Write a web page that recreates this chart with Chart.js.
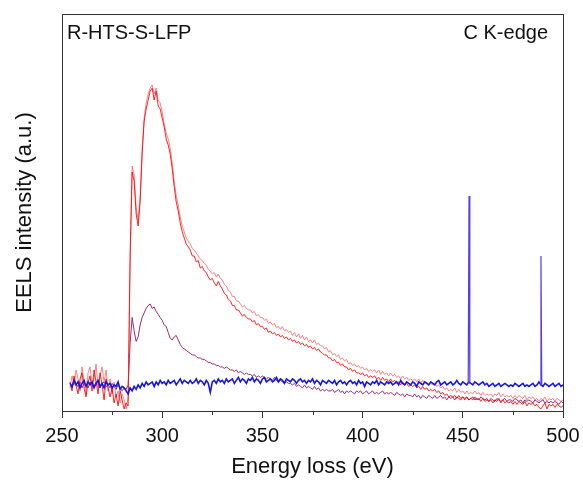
<!DOCTYPE html>
<html>
<head>
<meta charset="utf-8">
<script src="https://cdn.jsdelivr.net/npm/chart.js@4.4.1/dist/chart.umd.min.js"></script>
<style>
  html, body { margin: 0; padding: 0; background: #fff; }
  #wrap { width: 583px; height: 484px; }
</style>
</head>
<body>
<div id="wrap"><canvas id="eels" width="583" height="484"></canvas></div>
<script>
// energy grid: 254 .. 500 eV, 1 eV step
const eStart = 254;
const xTicks = [250, 300, 350, 400, 450, 500];

// bright red spectrum
const redA = [
  1, -2, 3, 0, -3, 2, 4, -1, -4, 1,
  3, -2, 5, 1, -3, 4, 0, -5, 2, -1,
  -4, -1, -6, -3, -7, -2, -5, -8, -6, -7,
  44, 71, 68, 57, 53, 61, 77, 88, 92, 95,
  98, 99, 95, 98, 93, 92, 89, 86, 82, 80,
  77, 72, 66, 61, 58, 54, 51, 49, 47, 46,
  45, 43, 43, 41, 41.5, 39, 39.5, 38, 37.5, 36,
  35, 35.5, 34, 33, 34.5, 33, 32, 30.5, 30, 28.5,
  28, 26.5, 26.5, 25, 25, 24, 23, 23.5, 22.5, 22,
  22, 21, 21.5, 20, 20.5, 19.5, 19.5, 18.5, 19, 17.5,
  18, 17, 17.5, 16.5, 17, 16, 16.5, 15.5, 16, 15,
  15.5, 14.5, 15, 14, 14.5, 13.5, 14, 13, 13.5, 12.5,
  13, 12, 12.5, 11.5, 12, 11, 10.5, 10, 10, 9,
  9, 8, 8.5, 7.5, 7.5, 6.5, 7, 6, 6, 5,
  5.5, 4.5, 5, 4, 4, 3.5, 4, 3, 3.5, 2.5,
  3, 2.5, 3, 2, 2.5, 1.5, 2.5, 1.5, 2, 1,
  2, 1, 1.5, 0.5, 1, 0, 1, 0, 0.5, -0.5,
  0, -0.5, 0, -1, -0.5, -1.5, -0.5, -1.5, -1, -2,
  -1.5, -2, -1.5, -2.5, -2, -3, -2.5, -3.5, -3, -4,
  -3.5, -4, -3.5, -4.5, -3.5, -4.5, -4, -5, -4, -5,
  -4.5, -5, -4, -5, -4.5, -5.5, -4.5, -5.5, -5, -5.5,
  -5, -6, -5, -5.5, -4.5, -6, -5, -6, -5.5, -6,
  -5.5, -6.5, -5.5, -6.5, -5.5, -6, -6.5, -5.5, -7, -6,
  -6.5, -6, -7, -6.5, -7.5, -8, -7, -6, -8, -6.5,
  -7, -6.5, -7.5, -6.5, -7, -7.5, -7
];

// light red spectrum
const redB = [
  -1, 3, 0, 5, 2, -2, 6, 1, -3, 4,
  6, 0, 2, 7, -1, 3, 6, 1, 5, -2,
  2, -3, 1, -4, -2, -6, -3, -5, -8, -4,
  40, 73, 70, 59, 55, 63, 79, 89, 94, 97,
  99, 100, 97, 99, 95, 94, 91, 87, 84, 82,
  79, 74, 68, 63, 60, 56, 53, 51, 49, 48,
  47, 45.5, 45, 44, 43, 42, 41.5, 40.5, 40, 38.5,
  38, 37, 37.5, 36, 37, 35.5, 35, 33.5, 33, 31.5,
  31, 29.5, 29.5, 28, 28, 27, 26, 26.5, 25.5, 25,
  25, 24, 24.5, 23, 23.5, 22.5, 22.5, 21.5, 22, 20.5,
  21, 20, 20.5, 19, 19.5, 18.5, 19.5, 18, 18.5, 17.5,
  18, 16.5, 17.5, 16, 17, 15.5, 16.5, 15, 16, 14.5,
  15, 14, 15, 13.5, 14, 13, 13, 12, 12.5, 11,
  11.5, 10, 10.5, 9.5, 10, 8.5, 9, 8, 8.5, 7,
  7.5, 6.5, 7, 6, 6.5, 5.5, 6, 5, 5.5, 4.5,
  5, 4.5, 5, 4, 5, 3.5, 4.5, 3.5, 4, 3,
  4, 3, 3.5, 2.5, 3, 2, 3, 2, 2.5, 1.5,
  2, 1.5, 2, 1, 2, 0.5, 1.5, 0.5, 1, 0,
  0.5, 0, 0.5, -0.5, 0, -1, -0.5, -1.5, -1, -2,
  -1.5, -2, -1, -2.5, -1.5, -2.5, -2, -3, -2, -3,
  -2.5, -3, -2, -3, -2.5, -3.5, -2.5, -3.5, -3, -3.5,
  -3, -4, -3, -3.5, -2.5, -4, -3, -4, -3.5, -4,
  -3.5, -4.5, -3.5, -4.5, -3.5, -4, -4.5, -3.5, -5, -4,
  -4.5, -4, -5, -4.5, -5.5, -4.5, -5, -4, -5.5, -4.5,
  -5, -4.5, -5.5, -4.5, -5, -5.5, -5
];

// purple spectrum
const purple = [
  0.5, -1, 1, 0, -0.5, 1, -1, 0.5, 0, -1,
  1, 0, -0.5, 1, 0, -1, 0.5, 1, -0.5, 0,
  -1, 0.5, -0.5, -1.5, 0, -1, -2, -1, -1.5, 0,
  14, 22.5, 18, 14.5, 16, 20, 22.5, 24, 25.5, 26.5,
  27, 25.5, 26, 24.5, 23.5, 22.5, 21.5, 20, 19.5, 17.5,
  15.5, 15, 16, 16.5, 15, 13.5, 12.5, 12, 11.5, 11,
  10.5, 10, 10, 9.5, 9, 9, 8.5, 8.5, 8, 7.5,
  7.5, 7, 7, 6.5, 6.5, 6, 6, 5.5, 6, 5.5,
  5, 5, 4.5, 5, 4, 4.5, 4, 3.5, 4, 3.5,
  3.5, 3, 3.5, 2.5, 3, 2.5, 3, 2.5, 2, 2.5,
  2, 1.5, 2.5, 1.5, 1, 1.5, 1, 0.5, 1, 0.5,
  0.5, 0, 0.5, -0.5, 0, -0.5, -1, 0, -1, -0.5,
  -1, -1.5, -0.5, -1.5, -1, -2, -1.5, -2, -1.5, -2,
  -2, -1.5, -2.5, -2, -1.5, -2.5, -2, -3, -2, -2.5,
  -2, -2.5, -3, -2, -2.5, -2, -3, -2.5, -2, -3,
  -2.5, -2, -3, -2.5, -3, -2.5, -2, -3, -2.5, -3,
  -2.5, -3, -3.5, -2.5, -3, -3.5, -3, -4, -3, -3.5,
  -3.5, -4, -3, -4, -3.5, -4.5, -3.5, -4, -4.5, -3.5,
  -4, -4.5, -3.5, -4.5, -4, -3.5, -4.5, -4, -5, -4,
  -4.5, -4, -5, -4, -4.5, -5, -4, -4.5, -4, -5,
  -4.5, -4, -5, -4.5, -5, -4, -4.5, -5, -4.5, -5.5,
  -4.5, -5, -5.5, -4.5, -5, -5.5, -5, -4.5, -5.5, -5,
  -5, -5.5, -4.5, -5, -5.5, -5, -6, -5, -5.5, -5,
  -5.5, -6, -5, -5.5, -6, -5.5, -5, -6, -5.5, -6,
  -5.5, -6, -5.5, -6, -6.5, -5.5, -6
];

// blue spectrum (background level)
const blue = [
  0.5, -0.5, 1.5, 0, 1, -1, 0.5, 1.5, -0.5, 1,
  0, 1, -1, 0.5, 1.5, -0.5, 0.5, -1, 1, 0,
  0.5, -1, 0, -0.5, 1, -1.5, -0.5, -1, -2, -3,
  -1, -2, -0.5, -1.5, 0, -1, 0.5, -0.5, 1, 0,
  0.5, 1, -0.5, 1, 0, 1.5, 0.5, 1, 0, 1.5,
  0.5, 1, 1.5, 0, 1, 2, 0.5, 1.5, 1, 0.5,
  1.5, 0.5, 1, 2, 0.5, 1.5, 1, 0, 1.5, 0.5,
  -2.5, 1, 1.5, 0.5, 2, 1, 1.5, 0.5, 2, 1,
  1.5, 2, 0.5, 1.5, 2.5, 1, 2, 1.5, 0.5, 2,
  1.5, 2.5, 1, 2, 1.5, 0.5, 2, 2.5, 1, 1.5,
  2, 1, 1.5, 2.5, 1, 2, 1.5, 0.5, 2, 1.5,
  1, 2, 1.5, 0.5, 1.5, 2, 1, 1.5, 0.5, 1.5,
  1, 2, 0.5, 1.5, 1, 0, 1.5, 1, 0.5, 1.5,
  1, 0.5, 1.5, 0, 1, 1.5, 0.5, 1, 0, 1,
  1.5, 0.5, 1, 0, 1.5, 0.5, 1, -0.5, 1, 0.5,
  0, 1, 0.5, 1.5, 0, 1, 0.5, 0, 1, 0.5,
  1, 0, 0.5, 1, 0, 1.5, 0.5, 0, 1, 0.5,
  0, 1, 0.5, -0.5, 1, 0.5, 0, 1, 0.5, 0,
  1, 0.5, 0, 1, 1.5, 0, 0.5, 1, 0, 0.5,
  1, 0, 0.5, 1.5, 0.5, 0, 1, 0.5, 0, 1,
  0.5, 0, 1, 0.5, 0, 0.5, 1, 0, 0.5, -0.5,
  0, 0.5, -0.5, 0, 0.5, -0.5, 0, 0.5, 0, -0.5,
  0, -0.5, 0.5, 0, -0.5, 0, 0.5, -0.5, 0, -0.5,
  0, 0.5, -0.5, 0, 1, 0, -0.5, 0.5, 0, -0.5,
  0, 0.5, -0.5, 0, 0.5, -0.5, 0
];

// two narrow spikes on the blue spectrum
const spikeE = [452.7, 453.1, 453.5, null, 488.6, 489.0, 489.4];
const spikeI = [0.5, 63, 0.5, null, 0, 43, 0];

const sampleLabel = "R-HTS-S-LFP";
const edgeLabel = "C K-edge";

const toPoints = vals => vals.map((v, i) => ({ x: eStart + i, y: v }));
const spikePts = spikeE.map((e, i) => ({ x: e === null ? 470 : e, y: spikeI[i] }));

const frame = {
  id: 'frame',
  afterDraw(chart) {
    const { ctx, chartArea: a, scales } = chart;
    ctx.save();
    ctx.strokeStyle = '#333';
    ctx.lineWidth = 1;
    ctx.strokeRect(a.left + 0.5, a.top + 0.5, a.right - a.left, a.bottom - a.top);
    // minor ticks half way between labels
    ctx.beginPath();
    for (let i = 0; i < xTicks.length - 1; i++) {
      const px = Math.round(scales.x.getPixelForValue((xTicks[i] + xTicks[i + 1]) / 2)) + 0.5;
      ctx.moveTo(px, a.bottom);
      ctx.lineTo(px, a.bottom + 4);
    }
    ctx.stroke();
    ctx.fillStyle = '#111';
    ctx.font = '20px "Liberation Sans", Arial, sans-serif';
    ctx.textBaseline = 'middle';
    ctx.textAlign = 'left';
    ctx.fillText(sampleLabel, a.left + 5, a.top + 19);
    ctx.textAlign = 'right';
    ctx.fillText(edgeLabel, a.right - 15, a.top + 19);
    ctx.restore();
  }
};

const ds = (label, vals, color, width, order) => ({
  label, data: toPoints(vals), borderColor: color, borderWidth: width,
  pointRadius: 0, tension: 0, order
});

new Chart(document.getElementById('eels'), {
  type: 'line',
  data: {
    datasets: [
      { label: 'spikes', data: spikePts, borderColor: '#5a3ee0', borderWidth: 1.2,
        pointRadius: 0, tension: 0, order: 0, spanGaps: false },
      ds('blue', blue, '#1414e8', 1.6, 1),
      ds('redA', redA, 'rgba(255,0,0,0.85)', 1, 2),
      ds('redB', redB, 'rgba(255,110,110,0.85)', 1, 3),
      ds('purple', purple, '#9a2c6c', 1, 4)
    ]
  },
  options: {
    responsive: false,
    animation: false,
    events: [],
    layout: { padding: { top: 14, right: 20, left: 12, bottom: 0 } },
    plugins: { legend: { display: false }, tooltip: { enabled: false } },
    scales: {
      x: {
        type: 'linear', min: 250, max: 500,
        afterBuildTicks: s => { s.ticks = xTicks.map(v => ({ value: v })); },
        afterFit: s => { s.height = 73; s.paddingLeft = 0; s.paddingRight = 0; },
        grid: { drawOnChartArea: false, tickLength: 7, color: '#333', tickColor: '#333' },
        border: { display: true, color: '#333', width: 1 },
        ticks: { color: '#111', padding: 6, maxRotation: 0,
                 font: { size: 20, family: '"Liberation Sans", Arial, sans-serif' } },
        title: { display: true, text: 'Energy loss (eV)', color: '#111', padding: { top: 6 },
                 font: { size: 22, family: '"Liberation Sans", Arial, sans-serif' } }
      },
      y: {
        min: -8.7, max: 123.7,
        afterFit: s => { s.width = 50; },
        grid: { display: false },
        border: { display: false },
        ticks: { display: false },
        title: { display: true, text: 'EELS intensity (a.u.)', color: '#111', padding: 0,
                 font: { size: 22, family: '"Liberation Sans", Arial, sans-serif' } }
      }
    }
  },
  plugins: [frame]
});
</script>
</body>
</html>
